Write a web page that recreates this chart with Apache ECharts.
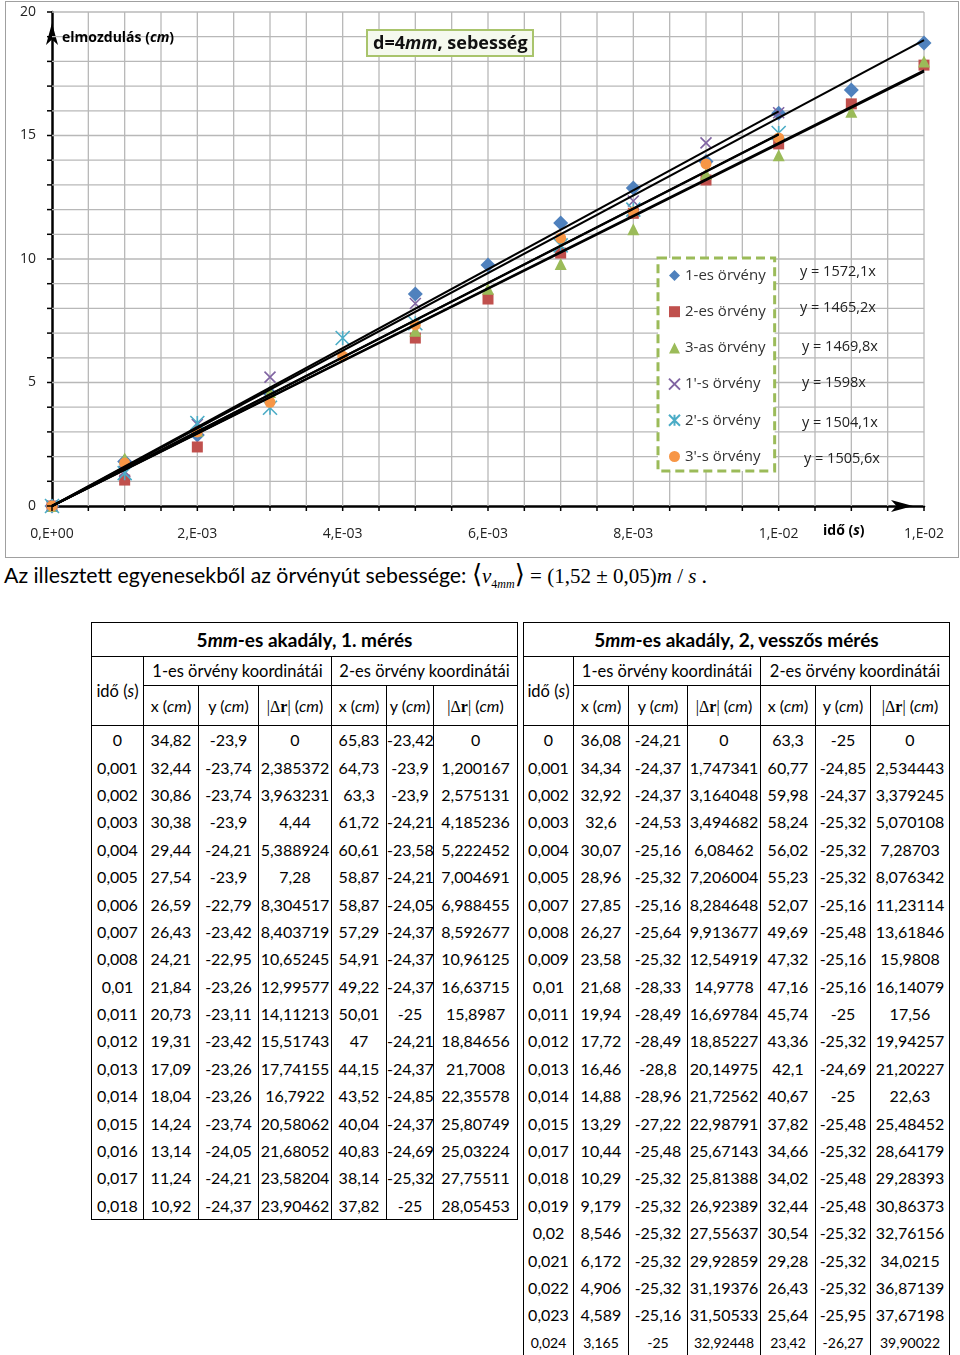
<!DOCTYPE html>
<html>
<head>
<meta charset="utf-8">
<script src="https://cdn.jsdelivr.net/npm/echarts@6/dist/echarts.min.js"></script>
<style>
  html, body { margin:0; padding:0; background:#fff; }
  body { width:960px; height:1355px; position:relative; overflow:hidden; }
  #chart { position:absolute; left:0; top:0; width:960px; height:560px; }
  #frame { position:absolute; left:5px; top:1px; width:952px; height:555px; border:1px solid #a0a0a0; pointer-events:none; }
  #sentence { position:absolute; left:4px; top:562px; font-family:Lato, "Open Sans", sans-serif; font-size:21.3px; color:#000; white-space:nowrap; }
  #sentence .m { font-family:"Liberation Serif", "DejaVu Serif", serif; font-size:21px; }
  #sentence .ang { font-size:26px; line-height:20px; }
  #sentence sub { font-size:12px; }
  table.dt { position:absolute; top:622px; border-collapse:collapse; table-layout:fixed; font-family:Lato, "Open Sans", sans-serif; color:#000; }
  table.dt td { border-left:1px solid #000; border-right:1px solid #000; padding:0; text-align:center; white-space:nowrap; overflow:visible; font-size:16px; }
  table.dt tr.h td { border:1px solid #000; }
  table.dt tr.title td { font-weight:bold; font-size:19px; height:33px; }
  table.dt tr.h2 td { font-size:16.5px; height:28px; }
  table.dt tr.h3 td { font-size:16px; height:39px; }
  table.dt tr.d td { height:27.4px; }
  table.dt tr.last td { border-bottom:1px solid #000; }
  table.dt tr.small td { font-size:14px; }
  .dr { font-family:"Liberation Serif", serif; }
</style>
</head>
<body>
<div id="chart"></div>
<div id="frame"></div>
<div id="sentence">Az illesztett egyenesekből az örvényút sebessége: <span class="m"><span class="ang">⟨</span><i>v</i><sub>4<i>mm</i></sub><span class="ang">⟩</span> = (1,52 ± 0,05)<i>m</i> / <i>s</i></span> .</div>
<div id="tables"></div>
<script>
// ---------------- chart data ----------------
const times = [0, 0.001, 0.002, 0.003, 0.004, 0.005, 0.006, 0.007, 0.008, 0.009, 0.010, 0.011, 0.012];
const vortex1  = [0, 1.80, 2.87, 4.55, null, 8.58, 9.76, 11.46, 12.87, 13.95, 15.90, 16.84, 18.74];
const vortex2  = [0, 1.05, 2.39, null, null, 6.80, 8.38, 10.24, 11.85, 13.20, 14.66, 16.28, 17.85];
const vortex3  = [0, 1.92, 3.05, 4.62, null, 7.10, 8.80, 9.80, 11.20, 13.45, 14.20, 15.96, 18.00];
const vortex1p = [0, 1.40, 3.30, 5.22, null, 8.20, null, null, 12.35, 14.70, 15.92, null, null];
const vortex2p = [0, 1.33, 3.36, 3.98, 6.80, 7.40, null, 10.55, 12.00, null, 15.10, null, null];
const vortex3p = [0, 1.74, 3.00, 4.20, 6.07, 7.33, null, 10.85, 11.90, 13.85, 14.90, null, null];
const seriesNames = ['1-es örvény', '2-es örvény', '3-as örvény', "1'-s örvény", "2'-s örvény", "3'-s örvény"];
const fitSlopes = [1572.1, 1465.2, 1469.8, 1598, 1504.1, 1505.6];
const fitEnds = [0.012, 0.012, 0.012, 0.010, 0.010, 0.010];
const xTickLabels = ['0,E+00', '2,E-03', '4,E-03', '6,E-03', '8,E-03', '1,E-02', '1,E-02'];
const yTickLabels = ['0', '5', '10', '15', '20'];

// ---------------- table data (5mm) ----------------
const t1Time = ['0','0,001','0,002','0,003','0,004','0,005','0,006','0,007','0,008','0,01','0,011','0,012','0,013','0,014','0,015','0,016','0,017','0,018'];
const t1X1  = ['34,82','32,44','30,86','30,38','29,44','27,54','26,59','26,43','24,21','21,84','20,73','19,31','17,09','18,04','14,24','13,14','11,24','10,92'];
const t1Y1  = ['-23,9','-23,74','-23,74','-23,9','-24,21','-23,9','-22,79','-23,42','-22,95','-23,26','-23,11','-23,42','-23,26','-23,26','-23,74','-24,05','-24,21','-24,37'];
const t1R1  = ['0','2,385372','3,963231','4,44','5,388924','7,28','8,304517','8,403719','10,65245','12,99577','14,11213','15,51743','17,74155','16,7922','20,58062','21,68052','23,58204','23,90462'];
const t1X2  = ['65,83','64,73','63,3','61,72','60,61','58,87','58,87','57,29','54,91','49,22','50,01','47','44,15','43,52','40,04','40,83','38,14','37,82'];
const t1Y2  = ['-23,42','-23,9','-23,9','-24,21','-23,58','-24,21','-24,05','-24,37','-24,37','-24,37','-25','-24,21','-24,37','-24,85','-24,37','-24,69','-25,32','-25'];
const t1R2  = ['0','1,200167','2,575131','4,185236','5,222452','7,004691','6,988455','8,592677','10,96125','16,63715','15,8987','18,84656','21,7008','22,35578','25,80749','25,03224','27,75511','28,05453'];

const t2Time = ['0','0,001','0,002','0,003','0,004','0,005','0,007','0,008','0,009','0,01','0,011','0,012','0,013','0,014','0,015','0,017','0,018','0,019','0,02','0,021','0,022','0,023','0,024'];
const t2X1  = ['36,08','34,34','32,92','32,6','30,07','28,96','27,85','26,27','23,58','21,68','19,94','17,72','16,46','14,88','13,29','10,44','10,29','9,179','8,546','6,172','4,906','4,589','3,165'];
const t2Y1  = ['-24,21','-24,37','-24,37','-24,53','-25,16','-25,32','-25,16','-25,64','-25,32','-28,33','-28,49','-28,49','-28,8','-28,96','-27,22','-25,48','-25,32','-25,32','-25,32','-25,32','-25,32','-25,16','-25'];
const t2R1  = ['0','1,747341','3,164048','3,494682','6,08462','7,206004','8,284648','9,913677','12,54919','14,9778','16,69784','18,85227','20,14975','21,72562','22,98791','25,67143','25,81388','26,92389','27,55637','29,92859','31,19376','31,50533','32,92448'];
const t2X2  = ['63,3','60,77','59,98','58,24','56,02','55,23','52,07','49,69','47,32','47,16','45,74','43,36','42,1','40,67','37,82','34,66','34,02','32,44','30,54','29,28','26,43','25,64','23,42'];
const t2Y2  = ['-25','-24,85','-24,37','-25,32','-25,32','-25,32','-25,16','-25,48','-25,16','-25,16','-25','-25,32','-24,69','-25','-25,48','-25,32','-25,48','-25,48','-25,32','-25,32','-25,32','-25,95','-26,27'];
const t2R2  = ['0','2,534443','3,379245','5,070108','7,28703','8,076342','11,23114','13,61846','15,9808','16,14079','17,56','19,94257','21,20227','22,63','25,48452','28,64179','29,28393','30,86373','32,76156','34,0215','36,87139','37,67198','39,90022'];

// ---------------- chart ----------------
const font = '"Open Sans", sans-serif';
const X_MIN = 0, X_MAX = 0.012, X_STEP = 0.0005;
const Y_MIN = 0, Y_MAX = 20, Y_STEP = 1;
const allValues = [vortex1, vortex2, vortex3, vortex1p, vortex2p, vortex3p];
const colors = ['#4f81bd', '#c0504d', '#9bbb59', '#8064a2', '#4bacc6', '#f79646'];
const xPath = 'path://M0,0L10,10M10,0L0,10';
const starPath = 'path://M0,0L10,10M10,0L0,10M5,0L5,10';
const symbols = ['diamond', 'rect', 'triangle', xPath, starPath, 'circle'];
const sizes = [15, 11, 12, 11, 14, 11];
const stroked = [false, false, false, true, true, false];

const series = [];
allValues.forEach((vals, i) => {
  series.push({
    name: seriesNames[i], type: 'scatter', symbol: symbols[i], symbolSize: sizes[i],
    itemStyle: stroked[i] ? { color: 'rgba(0,0,0,0)', borderColor: colors[i], borderWidth: 1.6, opacity: 1 } : { color: colors[i], opacity: 1 },
    z: 2,
    data: times.map((t, k) => vals[k] == null ? null : [t, vals[k]]).filter(d => d)
  });
});
fitSlopes.forEach((s, i) => {
  series.push({
    name: 'fit' + i, type: 'line', showSymbol: false, symbol: 'none', silent: true, z: 5,
    lineStyle: { color: '#000', width: 2 },
    data: [[0, 0], [fitEnds[i], s * fitEnds[i]]]
  });
});

const eqPos = [[800, 272], [800, 308], [802, 347], [802, 383], [802, 423], [804, 459]];
const graphics = [
  { type: 'text', left: 62, top: 31, z: 10, style: { text: '{b|elmozdulás (}{bi|cm}{b|)}', rich: {
      b: { fontFamily: font, fontSize: 14, fontWeight: 'bold', fill: '#000' },
      bi: { fontFamily: font, fontSize: 14, fontWeight: 'bold', fontStyle: 'italic', fill: '#000' } } } },
  { type: 'text', left: 823, top: 524, z: 10, style: { text: '{b|idő (}{bi|s}{b|)}', rich: {
      b: { fontFamily: font, fontSize: 14, fontWeight: 'bold', fill: '#000' },
      bi: { fontFamily: font, fontSize: 14, fontWeight: 'bold', fontStyle: 'italic', fill: '#000' } } } }
];
fitSlopes.forEach((s, i) => {
  graphics.push({ type: 'text', x: eqPos[i][0], y: eqPos[i][1], z: 10,
    style: { text: 'y = ' + String(s).replace('.', ',') + 'x', fontFamily: font, fontSize: 14.5, fill: '#222', verticalAlign: 'middle' } });
});

const chart = echarts.init(document.getElementById('chart'), null, { renderer: 'canvas' });
chart.setOption({
  animation: false,
  backgroundColor: '#fff',
  title: {
    text: '{a|d=4}{i|mm}{a|, sebesség}', left: 367, top: 27,
    padding: [5, 6, 4, 6], backgroundColor: '#f5f9ee', borderColor: '#a9c46c', borderWidth: 2,
    textStyle: { rich: {
      a: { fontFamily: font, fontSize: 18, fontWeight: 'bold', color: '#111', lineHeight: 23 },
      i: { fontFamily: font, fontSize: 18, fontWeight: 'bold', fontStyle: 'italic', color: '#111', lineHeight: 23 } } }
  },
  legend: {
    orient: 'vertical', left: 658, top: 258, padding: [10, 9, 7, 10], itemGap: 21.2,
    itemWidth: 11, itemHeight: 11, backgroundColor: '#fff',
    borderColor: '#9bbb59', borderWidth: 3, borderType: [9, 5],
    textStyle: { fontFamily: font, fontSize: 15, color: '#333' },
    data: seriesNames.slice()
  },
  grid: { left: 52, right: 36, top: 12, bottom: 54 },
  xAxis: {
    type: 'value', min: X_MIN, max: X_MAX, interval: X_STEP,
    axisLine: { lineStyle: { color: '#000', width: 2.5 }, symbol: ['none', 'arrow'], symbolSize: [9, 22], symbolOffset: [0, -11] },
    axisTick: { show: false },
    splitLine: { show: false },
    axisLabel: {
      margin: 21, fontFamily: font, fontSize: 14, color: '#222',
      formatter: v => { const k = Math.round(v / X_STEP); return k % 4 === 0 ? xTickLabels[k / 4] : ''; }
    }
  },
  yAxis: {
    type: 'value', min: Y_MIN, max: Y_MAX, interval: Y_STEP,
    axisLine: { lineStyle: { color: '#000', width: 2.5 }, symbol: ['none', 'arrow'], symbolSize: [9, 22], symbolOffset: [0, -11] },
    axisTick: { show: false },
    splitLine: { show: false },
    axisLabel: {
      margin: 16, fontFamily: font, fontSize: 14, color: '#222',
      formatter: v => { const k = Math.round(v); return k % 5 === 0 ? yTickLabels[k / 5] : ''; }
    }
  },
  series: series
});

// grid lines and tick marks, positioned through the chart's own axis scales
const nx = Math.round((X_MAX - X_MIN) / X_STEP), ny = Math.round((Y_MAX - Y_MIN) / Y_STEP);
const lo = chart.convertToPixel({ gridIndex: 0 }, [X_MIN, Y_MIN]);
const hi = chart.convertToPixel({ gridIndex: 0 }, [X_MAX, Y_MAX]);
for (let k = 0; k <= nx; k++) {
  const px = chart.convertToPixel({ gridIndex: 0 }, [X_MIN + k * X_STEP, Y_MIN])[0];
  if (k > 0) graphics.push({ type: 'line', silent: true, z: 1, shape: { x1: px, y1: lo[1], x2: px, y2: hi[1] }, style: { stroke: '#b8b8b8', lineWidth: 1.3 } });
  graphics.push({ type: 'line', silent: true, z: 10, shape: { x1: px, y1: lo[1], x2: px, y2: lo[1] + 5 }, style: { stroke: '#000', lineWidth: 1.5 } });
}
for (let k = 0; k <= ny; k++) {
  const py = chart.convertToPixel({ gridIndex: 0 }, [X_MIN, Y_MIN + k * Y_STEP])[1];
  if (k > 0) graphics.push({ type: 'line', silent: true, z: 1, shape: { x1: lo[0], y1: py, x2: hi[0], y2: py }, style: { stroke: '#b8b8b8', lineWidth: 1.3 } });
  graphics.push({ type: 'line', silent: true, z: 10, shape: { x1: lo[0] - 5, y1: py, x2: lo[0], y2: py }, style: { stroke: '#000', lineWidth: 1.5 } });
}
chart.setOption({ graphic: graphics });

// ---------------- tables ----------------
const drHead = '<span class="dr">|Δ<b>r</b>|</span> (<i>cm</i>)';
function buildTable(left, widths, title, time, cols, smallLast) {
  let h = '<table class="dt" style="left:' + left + 'px;width:' + widths.reduce((a, b) => a + b, 0) + 'px">';
  h += '<colgroup>' + widths.map(w => '<col style="width:' + w + 'px">').join('') + '</colgroup>';
  h += '<tr class="h title"><td colspan="7">' + title + '</td></tr>';
  h += '<tr class="h h2"><td rowspan="2">idő (<i>s</i>)</td><td colspan="3">1-es örvény koordinátái</td><td colspan="3">2-es örvény koordinátái</td></tr>';
  h += '<tr class="h h3"><td>x (<i>cm</i>)</td><td>y (<i>cm</i>)</td><td>' + drHead + '</td><td>x (<i>cm</i>)</td><td>y (<i>cm</i>)</td><td>' + drHead + '</td></tr>';
  time.forEach((t, r) => {
    const cls = 'd' + (r === time.length - 1 ? ' last' : '') + (smallLast && r === time.length - 1 ? ' small' : '');
    h += '<tr class="' + cls + '"><td>' + t + '</td>' + cols.map(c => '<td>' + c[r] + '</td>').join('') + '</tr>';
  });
  h += '</table>';
  return h;
}
document.getElementById('tables').innerHTML =
  buildTable(91, [52, 55, 60, 73, 55, 47, 84], '5<i>mm</i>-es akadály, 1. mérés', t1Time, [t1X1, t1Y1, t1R1, t1X2, t1Y2, t1R2], false) +
  buildTable(523, [50, 55, 59, 73, 55, 55, 79], '5<i>mm</i>-es akadály, 2, vesszős mérés', t2Time, [t2X1, t2Y1, t2R1, t2X2, t2Y2, t2R2], true);
</script>
</body>
</html>
